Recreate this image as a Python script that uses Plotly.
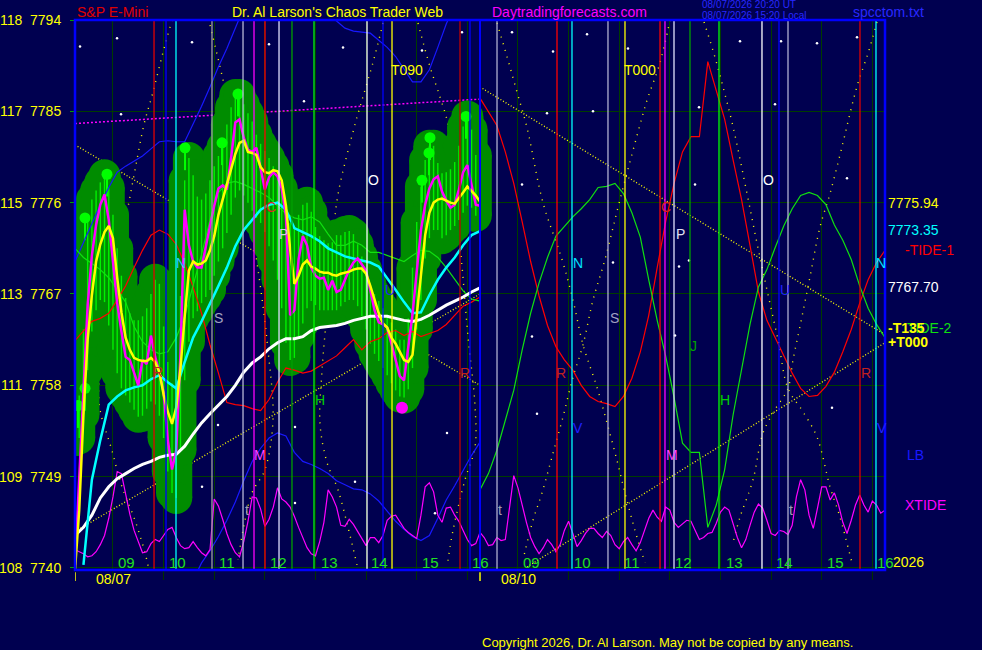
import plotly.graph_objects as go

# x axis is session hours: 0 = 08:15 on 08/07, 8 = 08:15 on 08/10 (forecast day)
STEP5 = 5 / 60
STEP10 = 10 / 60

FONT = "Liberation Sans, Arial, sans-serif"
BG = "#000050"

PRICE_TICKS = [7740, 7749, 7758, 7767, 7776, 7785, 7794]
INDEX_TICKS = [108, 109, 111, 113, 115, 117, 118]
HOUR_TIMES = [0.75, 1.75, 2.75, 3.75, 4.75, 5.75, 6.75, 7.75,
              8.75, 9.75, 10.75, 11.75, 12.75, 13.75, 14.75, 15.75]
HOUR_LABELS = ["09", "10", "11", "12", "13", "14", "15", "16",
               "09", "10", "11", "12", "13", "14", "15", "16"]
DAY_STARTS = [0, 8]
DAY_LABELS = ["08/07", "08/10"]
DAY_LABEL_TIMES = [0.77, 8.77]

# 5-minute price bars of 08/07
BAR_HIGH = [7756.6, 7757.0, 7763.5, 7774.3, 7776.3, 7777.2, 7778.0, 7778.7, 7777.5, 7774.8,
            7771.5, 7768.8, 7766.6, 7765.1, 7764.4, 7764.4, 7764.8, 7765.6, 7767.0, 7768.4,
            7768.0, 7763.8, 7760.3, 7758.2, 7757.7, 7766.8, 7778.2, 7780.4, 7778.7, 7776.6,
            7776.3, 7776.9, 7778.2, 7779.6, 7780.6, 7781.5, 7783.7, 7785.4, 7786.6, 7786.6,
            7785.7, 7784.8, 7784.0, 7782.7, 7781.8, 7781.1, 7780.4, 7779.6, 7778.7, 7777.4,
            7775.3, 7774.0, 7773.5, 7774.8, 7775.8, 7776.0, 7775.1, 7773.6, 7772.7, 7772.3,
            7772.0, 7772.1, 7772.8, 7772.8, 7773.1, 7773.2, 7772.9, 7771.9, 7770.7, 7769.4,
            7768.0, 7767.0, 7766.3, 7765.6, 7764.9, 7764.2, 7763.5, 7762.5, 7762.5, 7764.6,
            7769.6, 7774.1, 7777.6, 7780.2, 7781.6, 7781.6, 7779.9, 7778.9, 7779.0, 7779.3,
            7780.0, 7781.6, 7783.5, 7784.5, 7783.2, 7780.7]
BAR_LOW = [7752.6, 7752.8, 7755.1, 7759.5, 7763.3, 7765.4, 7766.4, 7766.2, 7763.9, 7761.5,
           7759.2, 7757.7, 7757.0, 7756.3, 7755.6, 7754.9, 7755.0, 7755.7, 7756.4, 7756.1,
           7755.0, 7752.8, 7749.5, 7747.4, 7746.9, 7751.6, 7758.5, 7762.3, 7764.6, 7765.3,
           7766.1, 7766.7, 7767.4, 7768.8, 7770.2, 7771.5, 7773.0, 7774.8, 7776.5, 7777.2,
           7776.7, 7776.0, 7775.2, 7774.5, 7774.0, 7773.1, 7771.7, 7770.3, 7768.4, 7765.6,
           7762.2, 7760.5, 7760.7, 7762.8, 7764.1, 7765.6, 7766.3, 7765.9, 7765.4, 7765.4,
           7765.4, 7765.4, 7765.4, 7765.8, 7766.2, 7766.4, 7766.4, 7765.8, 7764.8, 7763.5,
           7762.1, 7761.1, 7760.4, 7759.7, 7759.0, 7758.2, 7757.5, 7756.9, 7756.8, 7757.6,
           7759.7, 7763.5, 7766.4, 7770.5, 7772.5, 7773.3, 7773.3, 7772.5, 7772.8, 7773.3,
           7773.7, 7774.3, 7775.0, 7775.7, 7775.5, 7774.7]

# bar tops drawn as small balls on a stick
LOLLI_TIMES = [0.059, 0.198, 0.198, 0.632, 2.173, 2.904, 3.220, 6.854, 6.993, 7.012, 7.723]
LOLLI_PRICES = [7756.0, 7757.7, 7774.5, 7778.8, 7781.4, 7781.9, 7786.7, 7778.2, 7780.9, 7782.4, 7784.5]
LOW_MARK_TIME = [6.459]
LOW_MARK_PRICE = [7755.8]

# averages, 5 minute samples
FAST_AVG = [7740.3, 7748.7, 7758.0, 7765.9, 7770.8, 7773.8, 7775.8, 7776.8, 7774.3, 7769.9,
            7766.1, 7763.3, 7760.8, 7760.5, 7759.3, 7758.0, 7760.5, 7760.1, 7762.9, 7760.8,
            7759.3, 7757.3, 7752.6, 7749.7, 7751.6, 7761.0, 7775.3, 7771.8, 7770.2, 7769.6,
            7769.6, 7771.5, 7773.7, 7775.7, 7777.4, 7777.7, 7777.3, 7780.4, 7783.9, 7784.2,
            7782.4, 7781.2, 7781.0, 7781.4, 7779.2, 7777.3, 7778.5, 7779.0, 7778.6, 7777.4,
            7774.7, 7764.9, 7765.4, 7770.4, 7772.7, 7771.8, 7769.6, 7768.8, 7768.5, 7768.6,
            7767.4, 7768.3, 7767.2, 7767.4, 7768.4, 7769.4, 7770.1, 7770.5, 7769.9, 7769.3,
            7767.4, 7765.4, 7764.2, 7764.0, 7763.7, 7762.0, 7760.3, 7758.9, 7758.5, 7761.9,
            7765.0, 7769.2, 7773.3, 7775.8, 7777.4, 7778.3, 7778.6, 7777.1, 7776.2, 7775.5,
            7775.8, 7777.3, 7779.0, 7779.7, 7777.6, 7775.8, 7775.7]
YELLOW_AVG = [7739.8, 7745.7, 7755.1, 7762.5, 7766.9, 7770.2, 7771.9, 7773.1, 7773.7, 7772.5,
              7768.6, 7765.2, 7762.7, 7761.5, 7760.7, 7760.5, 7760.4, 7760.4, 7760.7, 7760.3,
              7759.3, 7757.1, 7755.4, 7754.2, 7755.8, 7759.7, 7764.8, 7769.3, 7770.2, 7769.9,
              7770.0, 7770.3, 7771.3, 7772.7, 7774.8, 7776.3, 7777.7, 7779.2, 7780.8, 7781.9,
              7782.1, 7781.0, 7780.9, 7780.7, 7779.5, 7779.0, 7778.9, 7779.2, 7779.1, 7778.2,
              7775.7, 7771.4, 7768.0, 7768.8, 7769.9, 7770.3, 7769.7, 7769.5, 7769.2, 7769.1,
              7769.1, 7768.9, 7768.8, 7769.0, 7769.1, 7769.2, 7769.4, 7769.5, 7769.5, 7769.0,
              7767.8, 7766.4, 7765.1, 7764.1, 7763.7, 7762.7, 7762.1, 7761.3, 7760.5, 7760.3,
              7761.0, 7764.9, 7768.9, 7772.8, 7775.0, 7776.0, 7776.3, 7776.4, 7776.2, 7776.0,
              7775.9, 7776.4, 7777.0, 7777.6, 7777.2, 7776.7, 7776.1]

# 10 minute samples
CYAN_AVG = [None, 7740.3, 7748.7, 7752.6, 7756.1, 7756.9, 7757.5, 7757.8, 7758.0, 7758.6,
            7759.0, 7758.3, 7757.7, 7760.3, 7762.7, 7764.3, 7766.0, 7767.8, 7769.6, 7771.7,
            7773.3, 7774.3, 7775.3, 7775.8, 7776.0, 7775.3, 7773.5, 7773.1, 7772.7, 7772.2,
            7771.5, 7771.1, 7770.7, 7770.5, 7770.3, 7770.1, 7769.7, 7768.6, 7767.4, 7766.2,
            7765.1, 7765.2, 7766.9, 7768.4, 7769.6, 7770.6, 7771.8, 7772.8, 7773.2]
WHITE_AVG = [7743.2, 7744.0, 7745.2, 7746.9, 7748.0, 7748.8, 7749.3, 7749.8, 7750.2, 7750.5,
             7750.9, 7751.1, 7751.2, 7752.0, 7753.2, 7754.3, 7755.2, 7756.0, 7756.9, 7758.0,
             7759.3, 7760.2, 7760.8, 7761.6, 7762.2, 7762.6, 7762.6, 7762.8, 7763.4, 7763.7,
             7763.8, 7763.9, 7764.1, 7764.4, 7764.6, 7764.8, 7764.8, 7764.8, 7764.6, 7764.4,
             7764.3, 7764.5, 7764.9, 7765.4, 7765.9, 7766.3, 7766.7, 7767.2, 7767.6]

TIDE1_DAY1 = [7762.4, 7763.4, 7764.3, 7764.6, 7765.1, 7766.4, 7767.8, 7769.6, 7771.3, 7772.8,
              7773.3, 7772.9, 7771.9, 7770.0, 7767.7, 7765.1, 7762.0, 7759.2, 7756.3, 7756.1,
              7756.0, 7755.7, 7755.5, 7756.6, 7758.3, 7759.7, 7759.5, 7759.2, 7759.4, 7759.9,
              7760.4, 7760.9, 7761.7, 7762.5, 7761.5, 7762.3, 7762.6, 7763.2, 7763.4, 7762.9,
              7763.3, 7762.8, 7763.1, 7763.4, 7764.0, 7764.9, 7765.8, 7766.2, 7766.7]
TIDE1_DAY2 = [7786.3, 7784.9, 7783.6, 7781.0, 7777.9, 7774.1, 7770.2, 7766.8, 7763.9, 7761.8,
              7760.5, 7759.5, 7758.0, 7756.9, 7756.4, 7756.2, 7755.9, 7756.9, 7758.7, 7761.3,
              7764.9, 7769.6, 7774.1, 7777.9, 7781.0, 7782.5, 7782.5, 7789.9, 7787.1, 7784.2,
              7780.2, 7776.3, 7771.8, 7767.2, 7764.4, 7762.7, 7760.9, 7759.2, 7757.7, 7756.9,
              7757.0, 7757.9, 7759.3, 7761.3, 7763.5, 7766.1, 7768.4, 7770.1, 7771.3]
TIDE2_DAY1 = [7771.5, 7770.6, 7770.0, 7769.4, 7768.6, 7767.4, 7766.2, 7763.8, 7762.3, 7761.5,
              7761.1, 7761.3, 7762.7, 7764.8, 7767.9, 7770.9, 7774.3, 7777.0, 7777.9, 7778.1,
              7777.8, 7777.4, 7777.0, 7776.5, 7775.7, 7774.9, 7774.5, 7774.3, 7774.6, 7774.1,
              7772.9, 7771.8, 7771.8, 7772.2, 7771.8, 7771.1, 7771.1, 7770.8, 7770.5, 7770.2,
              7770.8, 7771.3, 7771.2, 7770.6, 7769.6, 7768.4, 7767.3, 7766.5, 7766.3]
TIDE2_DAY2 = [7747.7, 7749.3, 7751.6, 7754.6, 7757.5, 7761.5, 7765.1, 7768.1, 7770.6, 7772.7,
              7773.7, 7774.6, 7775.4, 7776.3, 7777.5, 7777.6, 7777.9, 7776.9, 7775.0, 7772.6,
              7768.4, 7764.4, 7760.9, 7756.8, 7752.3, 7751.4, 7751.4, 7744.0, 7746.2, 7749.7,
              7755.1, 7759.7, 7764.0, 7767.7, 7769.4, 7771.6, 7773.7, 7775.4, 7776.7, 7777.0,
              7776.7, 7775.8, 7773.8, 7772.3, 7770.4, 7767.8, 7765.6, 7764.0, 7762.7]

# XTIDE, 5 minute samples over both days
XTIDE = [7741.8, 7741.6, 7741.4, 7741.1, 7741.2, 7741.6, 7742.3, 7743.2, 7744.9, 7747.0,
         7749.5, 7749.3, 7747.3, 7745.3, 7743.7, 7742.5, 7741.5, 7741.6, 7742.4, 7742.8,
         7742.6, 7743.2, 7743.8, 7744.0, 7743.0, 7742.2, 7741.9, 7742.0, 7742.6, 7742.0,
         7741.5, 7741.2, 7741.8, 7746.8, 7746.1, 7744.8, 7743.4, 7742.3, 7741.5, 7741.1,
         7742.6, 7744.6, 7747.0, 7746.9, 7745.8, 7744.1, 7744.8, 7746.0, 7747.9, 7746.8,
         7746.5, 7746.0, 7745.1, 7744.0, 7743.0, 7742.0, 7741.4, 7741.2, 7742.6, 7744.5,
         7747.7, 7747.0, 7746.0, 7744.2, 7744.1, 7744.8, 7744.3, 7743.6, 7742.8, 7742.2,
         7743.0, 7743.0, 7742.5, 7743.2, 7744.7, 7745.1, 7745.2, 7744.6, 7743.9, 7743.5,
         7743.2, 7742.9, 7745.2, 7748.0, 7748.4, 7747.5, 7745.2, 7744.5, 7745.9, 7746.0,
         7745.2, 7744.6, 7743.7, 7742.8, 7742.2, 7742.4, 7743.5,
         7743.0, 7742.2, 7742.3, 7743.0, 7742.7, 7742.8, 7746.2, 7749.1, 7747.9, 7746.1,
         7744.5, 7743.0, 7742.1, 7741.4, 7742.0, 7742.8, 7742.3, 7741.6, 7742.3, 7743.7,
         7744.6, 7743.4, 7742.1, 7742.7, 7743.4, 7743.9, 7743.9, 7743.4, 7743.0, 7743.6,
         7743.2, 7742.3, 7741.9, 7742.6, 7743.0, 7742.3, 7741.7, 7742.5, 7743.7, 7744.9,
         7745.7, 7745.0, 7744.6, 7746.0, 7745.7, 7744.5, 7744.0, 7744.4, 7744.7, 7744.6,
         7743.7, 7742.8, 7743.0, 7743.4, 7743.5, 7744.4, 7745.5, 7746.0, 7745.7, 7744.4,
         7743.0, 7742.0, 7742.8, 7744.2, 7745.5, 7746.3, 7745.9, 7744.7, 7743.4, 7743.2,
         7743.7, 7743.6, 7743.3, 7744.2, 7747.0, 7748.7, 7747.7, 7745.2, 7743.9, 7745.9,
         7748.0, 7748.0, 7746.7, 7747.4, 7746.2, 7744.5, 7743.4, 7744.7, 7746.2, 7747.2,
         7746.2, 7745.5, 7746.6, 7746.2, 7745.4, 7745.7]

# LB pieces (10 minute samples), with the sample index they start at
LB_UPPER_START = 0
LB_UPPER = [7770.2, 7772.1, 7773.9, 7775.8, 7777.5, 7779.0, 7779.6, 7780.1, 7780.6, 7781.3,
            7782.0, 7782.1, 7782.0, 7782.0, 7783.7, 7785.5, 7787.4, 7789.4, 7791.2, 7793.3, 7795.2]
LB_TOP_START = 30
LB_TOP = [7794.4, 7793.9, 7793.2, 7792.9, 7792.8, 7792.7, 7792.0, 7791.3, 7790.4, 7789.1,
          7787.9, 7787.9, 7789.1, 7791.3, 7793.6, 7795.5]
LB_LOWER_START = 14
LB_LOWER = [7738.8, 7740.5, 7741.7, 7743.1, 7744.7, 7746.5, 7748.6, 7750.5, 7751.8, 7752.8,
            7753.3, 7753.0, 7751.4, 7750.5, 7750.2, 7749.8, 7749.3, 7748.6, 7748.2, 7747.8,
            7747.7, 7747.3, 7746.6, 7745.6, 7744.6, 7743.8, 7743.1, 7742.7, 7743.2, 7744.9,
            7746.7, 7748.1, 7749.6, 7751.1, 7752.4]

# straight dotted trend lines (time pairs, price pairs)
TREND_YELLOW = [
    ([0, 8], [7781.7, 7758.0]),
    ([8, 16], [7787.4, 7763.0]),
    ([0, 8], [7743.6, 7767.0]),
    ([8.93, 16], [7740.1, 7762.2]),
]
TREND_MAGENTA_T = [0, 8]
TREND_MAGENTA_P = [7783.8, 7786.2]

# dotted time/price arcs
ARCS = [
    ([1.916, 1.738, 1.541, 1.363, 1.185, 1.027, 0.790, 0.593, 0.474, 0.494, 0.711, 0.928, 1.185, 1.383, 1.462],
     [7794.0, 7790.8, 7786.9, 7783.7, 7779.2, 7775.0, 7768.4, 7762.5, 7758.5, 7755.6, 7751.9, 7748.0, 7744.7, 7741.5, 7739.8]),
    ([2.667, 2.864, 3.002, 3.121, 3.358, 3.615, 3.812, 3.911, 3.753, 3.496, 3.319, 3.220],
     [7793.5, 7789.4, 7786.4, 7783.8, 7777.2, 7769.4, 7761.5, 7754.6, 7749.7, 7747.4, 7743.7, 7740.8]),
    ([6.084, 5.886, 5.669, 5.531, 5.195, 5.077, 4.998, 4.879, 4.840, 4.978, 5.195, 5.393, 5.570],
     [7793.7, 7789.8, 7786.1, 7783.7, 7776.8, 7771.5, 7766.4, 7759.4, 7754.2, 7750.4, 7747.7, 7744.0, 7740.3]),
    ([6.775, 7.012, 7.210, 7.368, 7.506, 7.644, 7.763, 7.901, 7.901, 7.704, 7.467, 7.348],
     [7793.7, 7789.4, 7786.4, 7783.7, 7776.8, 7769.8, 7762.8, 7756.0, 7751.9, 7748.7, 7743.7, 7740.1]),
    ([8.336, 8.533, 8.731, 8.928, 9.244, 9.620, 9.837, 10.035, 10.311, 10.509, 10.706, 10.864, 11.062, 11.259],
     [7793.7, 7790.4, 7786.9, 7783.4, 7776.0, 7770.4, 7766.4, 7762.0, 7757.8, 7754.3, 7750.6, 7747.4, 7743.7, 7740.5]),
    ([11.753, 11.556, 11.299, 11.200, 10.765, 10.469, 10.232, 10.035, 9.837, 9.640, 9.442, 9.225, 9.047, 8.849],
     [7794.0, 7789.8, 7786.1, 7784.4, 7776.3, 7770.4, 7766.4, 7762.0, 7758.8, 7754.9, 7751.3, 7747.4, 7744.7, 7740.8]),
    ([12.425, 12.602, 12.780, 12.998, 13.274, 13.472, 13.669, 13.886, 14.084, 14.380, 14.657, 14.914, 15.111, 15.348],
     [7793.8, 7791.0, 7787.8, 7783.5, 7776.9, 7772.0, 7767.4, 7762.5, 7757.7, 7755.4, 7752.9, 7748.0, 7745.0, 7740.5]),
    ([15.842, 15.664, 15.467, 15.309, 15.170, 14.914, 14.716, 14.519, 14.321, 14.183, 14.084, 13.827, 13.590, 13.393, 13.136, 12.998],
     [7793.8, 7790.7, 7787.8, 7784.8, 7781.9, 7776.9, 7773.6, 7768.7, 7763.8, 7760.5, 7757.7, 7755.6, 7753.3, 7748.7, 7745.0, 7742.5]),
]

STAR_TIMES = [0.099, 0.830, 2.311, 3.832, 4.523, 5.294, 6.854, 7.644, 0.909, 8.632,
              9.442, 10.114, 10.923, 13.136, 13.946, 14.657, 15.447, 9.323, 10.232, 8.830,
              12.247, 12.128, 11.931, 9.027, 11.852, 10.627, 14.953, 9.126, 15.249, 13.827,
              12.326, 2.825, 4.346, 5.531, 7.348, 2.509, 7.111, 4.346]
STAR_PRICES = [7791.4, 7792.2, 7791.8, 7791.6, 7786.0, 7791.3, 7791.0, 7792.8, 7784.7, 7792.8,
               7790.9, 7792.6, 7791.2, 7791.9, 7791.9, 7791.7, 7792.3, 7784.8, 7785.0, 7777.8,
               7777.8, 7770.3, 7769.7, 7762.8, 7762.9, 7770.1, 7755.8, 7755.2, 7778.4, 7785.7,
               7785.4, 7754.1, 7753.9, 7748.5, 7753.3, 7748.0, 7745.4, 7746.4]

VLINE_TIMES = [1.561, 1.798, 1.995, 2.706, 3.319, 3.536, 3.753, 4.030, 4.286, 4.721,
               5.768, 6.084, 6.262, 7.605, 7.802, 8.0,
               8.336, 9.521, 9.817, 10.528, 10.864, 11.556, 11.654, 11.832, 12.148, 12.721,
               13.570, 13.906, 14.084, 15.506, 15.822]
VLINE_COLORS = ["#e00000", "#0000ff", "#00ffff", "#a0a0a0", "#b8b8d8", "#ff00ff", "#ff0000",
                "#e0e0ff", "#00a000", "#00ff00", "#ffffff", "#0000ff", "#ffff00", "#c00000",
                "#0000ff", "#0000ff",
                "#b0b0d0", "#ff0000", "#00ffff", "#b0b0d0", "#ffff00", "#ff0000", "#ff00ff",
                "#e0e0ff", "#00a000", "#00ff00", "#ffffff", "#0000ff", "#b0b0d0", "#e00000",
                "#00ffff"]

# chart letters: text, time, price, colour
GLYPHS = [
    ("T090", 6.56, 7789.1, "#ffff00"), ("T000", 11.16, 7789.1, "#ffff00"),
    ("O", 5.906, 7778.2, "#ffffff"), ("O", 13.689, 7778.2, "#ffffff"),
    ("N", 2.094, 7770.1, "#30c0ff"), ("N", 9.936, 7770.1, "#00e0ff"), ("N", 15.921, 7770.1, "#00e0ff"),
    ("S", 2.825, 7764.6, "#a0a0c0"), ("S", 10.647, 7764.6, "#a0a0c0"),
    ("P", 4.128, 7772.9, "#d0d0e0"), ("P", 11.951, 7772.9, "#e0e0f0"),
    ("H", 4.840, 7756.6, "#00d000"), ("H", 12.840, 7756.6, "#00d000"),
    ("J", 12.227, 7761.9, "#00a000"),
    ("M", 3.654, 7751.1, "#ff40ff"), ("M", 11.793, 7751.1, "#ff40ff"),
    ("R", 7.704, 7759.2, "#c02020"), ("R", 9.600, 7759.2, "#c02020"),
    ("R", 15.625, 7759.2, "#c02020"), ("R", 1.640, 7759.3, "#c02020"),
    ("t", 3.398, 7745.7, "#a0a0b0"), ("t", 8.395, 7745.7, "#a0a0b0"), ("t", 14.143, 7745.7, "#a0a0b0"),
    ("U", 6.222, 7767.4, "#2020ff"), ("U", 14.025, 7767.4, "#2020ff"),
    ("V", 9.936, 7753.8, "#2020ff"), ("V", 15.941, 7753.8, "#2020ff"),
    ("C", 3.872, 7775.6, "#e02020"), ("C", 11.674, 7775.6, "#e02020"),
]

DARK_GREEN = "#008c00"
LIME = "#00f000"


def times_from(start_index, step, values):
    return [(start_index + i) * step for i in range(len(values))]


fig = go.Figure()


def add_line(x, y, color, width=1.2, dash=None, shape="linear"):
    fig.add_trace(go.Scatter(
        x=x, y=y, mode="lines",
        line=dict(color=color, width=width, dash=dash, shape=shape),
        hoverinfo="skip", showlegend=False,
    ))


# dotted arcs and trend lines
for arc_t, arc_p in ARCS:
    add_line(arc_t, arc_p, "#ffff00", width=1.4, dash="1px,6px", shape="spline")
for tt, pp in TREND_YELLOW:
    add_line(tt, pp, "#ffff00", width=1.3, dash="1px,2px")
add_line(TREND_MAGENTA_T, TREND_MAGENTA_P, "#ff00ff", width=1.5, dash="2px,2px")

fig.add_trace(go.Scatter(
    x=STAR_TIMES, y=STAR_PRICES, mode="markers",
    marker=dict(size=2.5, color="#ffffff"), hoverinfo="skip", showlegend=False,
))

# price bars as green blobs
bar_t = times_from(0, STEP5, BAR_HIGH)
seg_x, seg_y = [], []
for t, hi, lo in zip(bar_t, BAR_HIGH, BAR_LOW):
    seg_x += [t, t, None]
    seg_y += [lo, hi, None]
add_line(seg_x, seg_y, DARK_GREEN, width=32)
fig.add_trace(go.Scatter(
    x=bar_t + bar_t, y=BAR_HIGH + BAR_LOW, mode="markers",
    marker=dict(size=32, color=DARK_GREEN), hoverinfo="skip", showlegend=False,
))
add_line(seg_x, seg_y, LIME, width=1.4)
fig.add_trace(go.Scatter(
    x=LOLLI_TIMES, y=LOLLI_PRICES, mode="markers",
    marker=dict(size=11, color="#00ff00"),
    error_y=dict(type="constant", value=0, valueminus=2.2, symmetric=False,
                 color="#00ff00", thickness=2, width=0),
    hoverinfo="skip", showlegend=False,
))

# tides and LB
add_line(times_from(LB_UPPER_START, STEP10, LB_UPPER), LB_UPPER, "#1818ff")
add_line(times_from(LB_TOP_START, STEP10, LB_TOP), LB_TOP, "#1818ff")
add_line(times_from(LB_LOWER_START, STEP10, LB_LOWER), LB_LOWER, "#1818ff")
add_line(times_from(0, STEP10, TIDE1_DAY1) + times_from(48, STEP10, TIDE1_DAY2),
         TIDE1_DAY1 + TIDE1_DAY2, "#ff0000")
add_line(times_from(0, STEP10, TIDE2_DAY1) + times_from(48, STEP10, TIDE2_DAY2),
         TIDE2_DAY1 + TIDE2_DAY2, "#10e010")
add_line(times_from(0, STEP5, XTIDE), XTIDE, "#ff00ff", width=1.2)

# averages
add_line(times_from(0, STEP10, WHITE_AVG), WHITE_AVG, "#ffffff", width=3)
add_line(times_from(0, STEP10, CYAN_AVG), CYAN_AVG, "#00ffff", width=2.5)
add_line(times_from(0, STEP5, FAST_AVG), FAST_AVG, "#ff00ff", width=2.5)
add_line(times_from(0, STEP5, YELLOW_AVG), YELLOW_AVG, "#ffff00", width=2.5)
fig.add_trace(go.Scatter(
    x=LOW_MARK_TIME, y=LOW_MARK_PRICE, mode="markers",
    marker=dict(size=12, color="#ff00ff"), hoverinfo="skip", showlegend=False,
))

# planetary time lines
for t, c in zip(VLINE_TIMES, VLINE_COLORS):
    fig.add_shape(type="line", x0=t, x1=t, y0=0, y1=1, xref="x", yref="paper",
                  line=dict(color=c, width=2 if t == 8 else 1.3), layer="above")
for t in DAY_STARTS:
    fig.add_shape(type="line", x0=t, x1=t, y0=-0.004, y1=-0.02, xref="x", yref="paper",
                  line=dict(color="#ffff00", width=1.5))
fig.add_shape(type="rect", x0=0, x1=1, y0=0, y1=1, xref="paper", yref="paper",
              line=dict(color="#0000ff", width=2.5), layer="above")


def note(text, x, y, color, size=14, xref="x", yref="y", xanchor="center", yanchor="middle"):
    fig.add_annotation(text=text, x=x, y=y, xref=xref, yref=yref, xanchor=xanchor,
                       yanchor=yanchor, showarrow=False,
                       font=dict(color=color, size=size, family=FONT))


for text, t, p, c in GLYPHS:
    note(text, t, p, c)

for t, lab in zip(HOUR_TIMES, HOUR_LABELS):
    note(lab, t + 0.06, 0.0145, "#20e020", size=15, yref="paper", xanchor="left")
for t, lab in zip(DAY_LABEL_TIMES, DAY_LABELS):
    note(lab, t, -0.0164, "#ffff00", yref="paper")

# header, footer and right-hand value labels
note("S&amp;P E-Mini", 0, 1.0145, "#e00000", xref="paper", yref="paper", xanchor="left")
note("Dr. Al Larson's Chaos Trader Web", 0.1914, 1.0145, "#ffff00", xref="paper", yref="paper", xanchor="left")
note("Daytradingforecasts.com", 0.5123, 1.0145, "#ff00ff", xref="paper", yref="paper", xanchor="left")
note("08/07/2026 20:20 UT", 0.7716, 1.029, "#2828ff", size=10, xref="paper", yref="paper", xanchor="left")
note("08/07/2026 15:20 Local", 0.7716, 1.009, "#2828ff", size=10, xref="paper", yref="paper", xanchor="left")
note("spcctom.txt", 0.958, 1.0145, "#2828ff", xref="paper", yref="paper", xanchor="left")
note("Copyright 2026, Dr. Al Larson. May not be copied by any means.", 0.5, -0.1327, "#ffff00",
     size=13, xref="paper", yref="paper", xanchor="left")

note("7775.94", 1.0012, 7775.94, "#ffff00", xref="paper", xanchor="left")
note("7773.35", 1.0012, 7773.35, "#00ffff", xref="paper", xanchor="left")
note("-TIDE-1", 1.0222, TIDE1_DAY2[-1], "#ff0000", xref="paper", xanchor="left")
note("7767.70", 1.0012, 7767.70, "#ffffff", xref="paper", xanchor="left")
note("TIDE-2", 1.0247, 7763.6, "#10e010", xref="paper", xanchor="left")
note("<b>-T135</b>", 1.0012, 7763.6, "#ffff00", xref="paper", xanchor="left")
note("<b>+T000</b>", 1.0012, 7762.3, "#ffff00", xref="paper", xanchor="left")
note("LB", 1.0247, 7751.1, "#1818ff", xref="paper", xanchor="left")
note("XTIDE", 1.0222, 7746.2, "#ff00ff", xref="paper", xanchor="left")
note("2026", 1.0074, 0.0145, "#ffff00", xref="paper", yref="paper", xanchor="left")

fig.update_layout(
    width=982, height=650,
    margin=dict(l=75, r=97, t=20, b=80, autoexpand=False),
    paper_bgcolor=BG, plot_bgcolor=BG,
    showlegend=False,
    font=dict(family=FONT, color="#ffff00", size=14),
    xaxis=dict(
        range=[0, 16], tickvals=HOUR_TIMES, showticklabels=False,
        ticks="outside", ticklen=9, tickcolor="#003000",
        showgrid=True, gridcolor="#003c00", gridwidth=1,
        zeroline=False, showline=False, fixedrange=True, automargin=False,
    ),
    yaxis=dict(
        range=[7739.8, 7794.0], tickvals=PRICE_TICKS,
        ticktext=[f"{a}\u00a0\u00a0{b}" for a, b in zip(INDEX_TICKS, PRICE_TICKS)],
        tickfont=dict(color="#ffff00", size=14, family=FONT),
        ticks="outside", ticklen=4, tickcolor="#00a000", ticklabelstandoff=6,
        showgrid=True, gridcolor="#003c00", gridwidth=1,
        zeroline=False, showline=False, fixedrange=True, automargin=False,
    ),
)

fig.write_html(
    "out.html",
    config={"displayModeBar": False},
    post_script="document.body.style.margin='0';document.body.style.background='" + BG + "';",
)
